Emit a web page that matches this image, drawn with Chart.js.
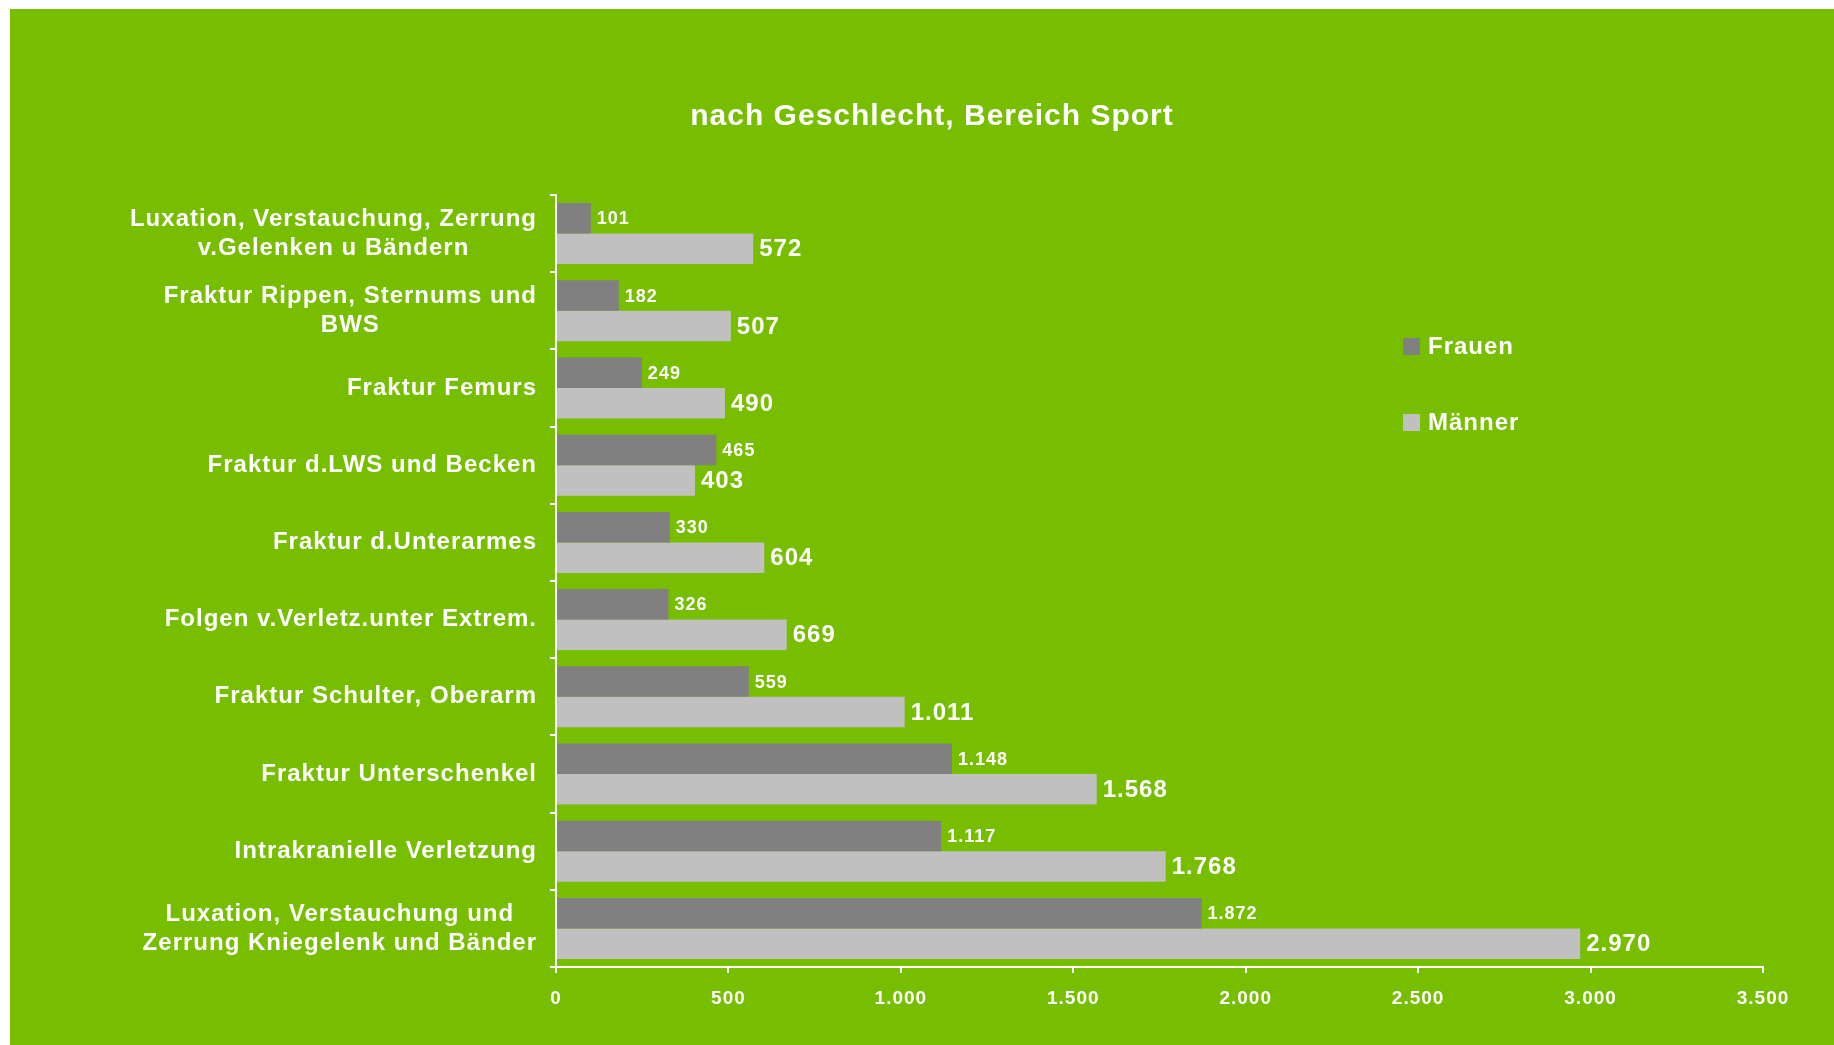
<!DOCTYPE html>
<html>
<head>
<meta charset="utf-8">
<script src="https://cdn.jsdelivr.net/npm/chart.js@4.4.1/dist/chart.umd.min.js"></script>
<style>
  html, body { margin: 0; padding: 0; background: #fff; }
  body { width: 1834px; height: 1045px; position: relative; overflow: hidden; font-family: "Liberation Sans", Arial, sans-serif; }
  #panel { position: absolute; left: 10px; top: 9px; width: 1824px; height: 1036px; background: #77bd00; }
  #title { position: absolute; left: 922px; top: 106px; transform: translate(-50%, -50%); color: #fff; font-weight: bold; font-size: 30px; letter-spacing: 1px; white-space: nowrap; }
  .leg { position: absolute; left: 1393px; color: #fff; font-weight: bold; font-size: 24px; letter-spacing: 1px; display: flex; align-items: center; transform: translateY(-50%); }
  .leg i { display: inline-block; width: 17px; height: 17px; margin-right: 8px; }
</style>
</head>
<body>
<div id="panel">
  <canvas id="chart"></canvas>
  <div id="title">nach Geschlecht, Bereich Sport</div>
  <div class="leg" style="top:337px"><i style="background:#808080"></i>Frauen</div>
  <div class="leg" style="top:413px"><i style="background:#c0c0c0"></i>Männer</div>
</div>
<script>
// ── Daten ───────────────────────────────────────────────
const categories = [
  ['Luxation, Verstauchung, Zerrung', 'v.Gelenken u Bändern'],
  ['Fraktur Rippen, Sternums und', 'BWS'],
  'Fraktur Femurs',
  'Fraktur d.LWS und Becken',
  'Fraktur d.Unterarmes',
  'Folgen v.Verletz.unter Extrem.',
  'Fraktur Schulter, Oberarm',
  'Fraktur Unterschenkel',
  'Intrakranielle Verletzung',
  ['Luxation, Verstauchung und', 'Zerrung Kniegelenk und Bänder']
];
const frauen = [101, 182, 249, 465, 330, 326, 559, 1148, 1117, 1872];
const maenner = [572, 507, 490, 403, 604, 669, 1011, 1568, 1768, 2970];
const xMax = 3500;
const xStep = 500;

const FONT = '"Liberation Sans", Arial, sans-serif';

// Tausenderpunkt
const fmt = v => String(v).replace(/\B(?=(\d{3})+(?!\d))/g, '.');

// Werte neben die Balken schreiben
const valueLabels = {
  id: 'valueLabels',
  afterDatasetsDraw(chart) {
    const ctx = chart.ctx;
    ctx.save();
    ctx.fillStyle = '#fff';
    ctx.textAlign = 'left';
    ctx.textBaseline = 'middle';
    chart.data.datasets.forEach((ds, i) => {
      const size = i === 0 ? 18 : 24;
      ctx.font = `bold ${size}px ${FONT}`;
      chart.getDatasetMeta(i).data.forEach((bar, j) => {
        ctx.fillText(fmt(ds.data[j]), bar.x + 6, bar.y + 1);
      });
    });
    ctx.restore();
  }
};

// Kategorien: Block rechtsbündig, Zeilen zentriert
const catLabels = {
  id: 'catLabels',
  afterDraw(chart) {
    const ctx = chart.ctx;
    const sc = chart.scales.y;
    const lh = 29;
    ctx.save();
    ctx.fillStyle = '#fff';
    ctx.font = `bold 24px ${FONT}`;
    ctx.textAlign = 'center';
    ctx.textBaseline = 'middle';
    const right = sc.right - 6 - 13;
    categories.forEach((c, i) => {
      const lines = Array.isArray(c) ? c : [c];
      const w = Math.max(...lines.map(l => ctx.measureText(l).width));
      const cx = right - w / 2;
      const y0 = sc.getPixelForTick(i) - (lines.length - 1) * lh / 2;
      lines.forEach((l, k) => ctx.fillText(l, cx, y0 + k * lh));
    });
    ctx.restore();
  }
};

const spacing = {
  id: 'spacing',
  beforeDraw(chart) { chart.ctx.letterSpacing = '1px'; }
};

const canvas = document.getElementById('chart');
canvas.width = 1824;
canvas.height = 1036;

new Chart(canvas, {
  type: 'bar',
  data: {
    labels: categories,
    datasets: [
      { label: 'Frauen', data: frauen, backgroundColor: '#808080', borderWidth: 0 },
      { label: 'Männer', data: maenner, backgroundColor: '#c0c0c0', borderWidth: 0 }
    ]
  },
  options: {
    indexAxis: 'y',
    responsive: false,
    animation: false,
    categoryPercentage: 0.79,
    barPercentage: 1,
    layout: { padding: { top: 186, right: 71, bottom: 0, left: 0 } },
    plugins: { legend: { display: false }, title: { display: false }, tooltip: { enabled: false } },
    scales: {
      x: {
        min: 0, max: xMax,
        afterFit: s => { s.height = 78; },
        ticks: {
          stepSize: xStep,
          color: '#fff',
          padding: 14,
          font: { size: 19, weight: 'bold', family: FONT },
          callback: v => fmt(v)
        },
        grid: { drawOnChartArea: false, drawTicks: true, tickLength: 6, color: '#fff', lineWidth: 2 },
        border: { display: true, color: '#fff', width: 2 }
      },
      y: {
        afterFit: s => { s.width = 546; },
        ticks: {
          color: 'rgba(0,0,0,0)',
          padding: 13,
          font: { size: 24, weight: 'bold', family: FONT, lineHeight: 1.2 }
        },
        grid: { offset: true, drawOnChartArea: false, drawTicks: true, tickLength: 6, color: '#fff', lineWidth: 2 },
        border: { display: true, color: '#fff', width: 2 }
      }
    }
  },
  plugins: [spacing, valueLabels, catLabels]
});
</script>
</body>
</html>
